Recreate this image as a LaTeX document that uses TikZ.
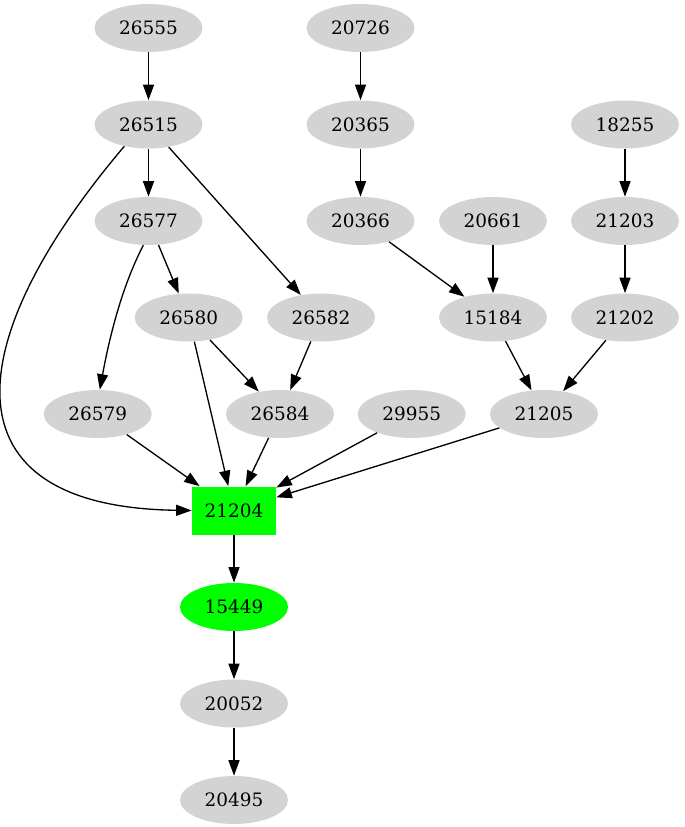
\documentclass[tikz,border=0pt]{standalone}
\usepackage{fontspec}
\setmainfont{DejaVu Serif}
\usepackage{tikz}
\usetikzlibrary{shapes.geometric,arrows.meta}

\definecolor{nodegray}{HTML}{D3D3D3}
\definecolor{hitgreen}{HTML}{00FF00}

\begin{document}
\begin{tikzpicture}[
    x=0.02cm, y=-0.02cm,
    job/.style={ellipse, fill=nodegray, minimum width=2.16cm, minimum height=0.96cm,
                inner sep=0pt, font=\fontsize{10.5}{12}\selectfont},
    hitbox/.style={rectangle, fill=hitgreen, minimum width=1.68cm, minimum height=0.96cm,
                   inner sep=0pt, font=\fontsize{10.5}{12}\selectfont},
    hitjob/.style={job, fill=hitgreen},
    edge/.style={->, line width=0.75pt},
    >={Triangle[length=0.31cm,width=0.22cm]}
]
\useasboundingbox (0,0) rectangle (684,827);

% rank 0
\node[job] (n26555) at (148.5, 28) {26555};
\node[job] (n20726) at (360.5, 28) {20726};
% rank 1
\node[job] (n26515) at (148.5, 124.5) {26515};
\node[job] (n20365) at (360.5, 124.5) {20365};
\node[job] (n18255) at (625, 124.5) {18255};
% rank 2
\node[job] (n26577) at (148.5, 221) {26577};
\node[job] (n20366) at (360.5, 221) {20366};
\node[job] (n20661) at (493, 221) {20661};
\node[job] (n21203) at (625, 221) {21203};
% rank 3
\node[job] (n26580) at (188.7, 317.5) {26580};
\node[job] (n26582) at (321, 317.5) {26582};
\node[job] (n15184) at (493, 317.5) {15184};
\node[job] (n21202) at (625, 317.5) {21202};
% rank 4
\node[job] (n26579) at (97.7, 414) {26579};
\node[job] (n26584) at (280, 414) {26584};
\node[job] (n29955) at (411.7, 414) {29955};
\node[job] (n21205) at (544, 414) {21205};
% rank 5 and below
\node[hitbox] (n21204) at (234, 510.5) {21204};
\node[hitjob] (n15449) at (234, 607) {15449};
\node[job] (n20052) at (234, 703.5) {20052};
\node[job] (n20495) at (234, 800) {20495};

% edges
\draw[edge] (n26555) -- (n26515);
\draw[edge] (n20726) -- (n20365);
\draw[edge] (n26515) -- (n26577);
\draw[edge] (n26515) -- (n26582);
\draw[edge] (n26515.222) .. controls (-40,340) and (-60,507) .. (n21204.west);
\draw[edge] (n20365) -- (n20366);
\draw[edge] (n18255) -- (n21203);
\draw[edge] (n26577) -- (n26580);
\draw[edge] (n26577.258) .. controls (120,290) and (108,345) .. (n26579.85);
\draw[edge] (n20366) -- (n15184);
\draw[edge] (n20661) -- (n15184);
\draw[edge] (n21203) -- (n21202);
\draw[edge] (n26580) -- (n26584);
\draw[edge] (n26580) -- (n21204);
\draw[edge] (n26582) -- (n26584);
\draw[edge] (n15184) -- (n21205);
\draw[edge] (n21202) -- (n21205);
\draw[edge] (n26579) -- (n21204);
\draw[edge] (n26584) -- (n21204);
\draw[edge] (n29955) -- (n21204);
\draw[edge] (n21205) -- (n21204);
\draw[edge] (n21204) -- (n15449);
\draw[edge] (n15449) -- (n20052);
\draw[edge] (n20052) -- (n20495);
\end{tikzpicture}
\end{document}
